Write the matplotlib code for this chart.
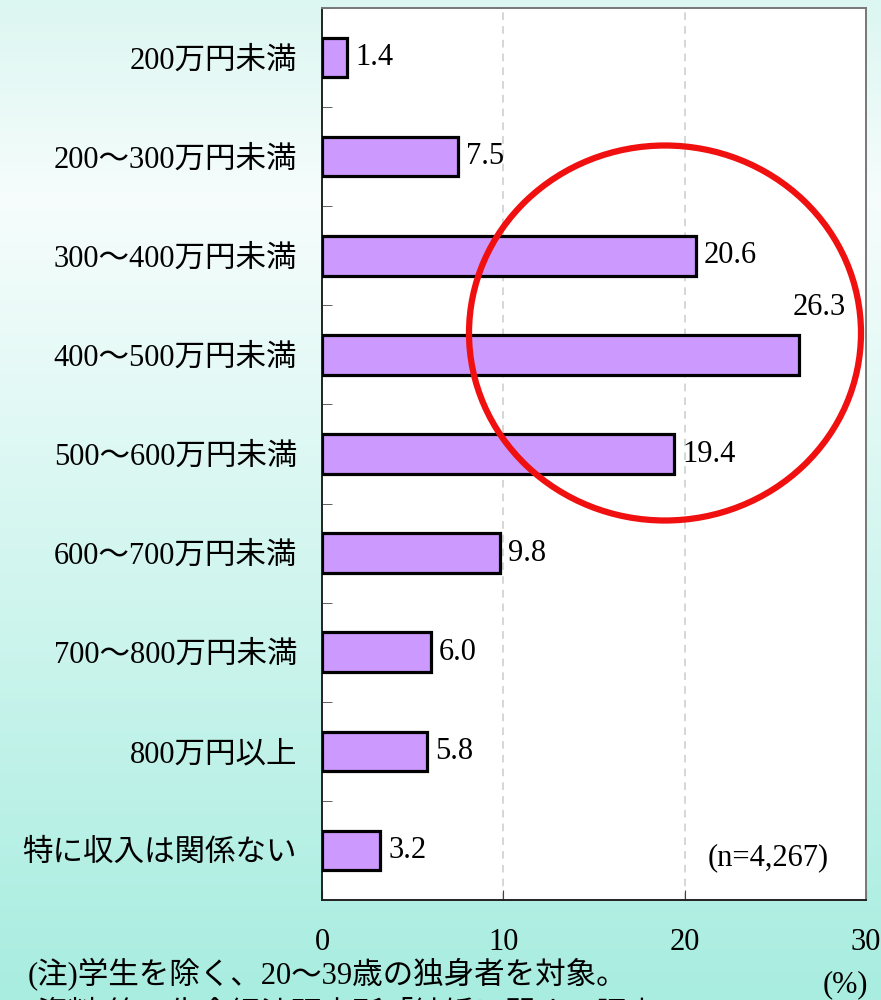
import matplotlib
matplotlib.use("Agg")
import matplotlib.pyplot as plt
import numpy as np
from matplotlib.patches import Ellipse

plt.rcParams['font.family'] = ['Liberation Serif', 'Noto Sans CJK JP', 'DejaVu Sans']

# データ
categories = ['200万円未満', '200～300万円未満', '300～400万円未満', '400～500万円未満',
              '500～600万円未満', '600～700万円未満', '700～800万円未満', '800万円以上',
              '特に収入は関係ない']
values = [1.4, 7.5, 20.6, 26.3, 19.4, 9.8, 6.0, 5.8, 3.2]
xticks = [0, 10, 20, 30]

fig = plt.figure(figsize=(8.81, 10), dpi=100)

# 背景グラデーション
bg = fig.add_axes([0, 0, 1, 1], zorder=-10)
yy = np.linspace(0, 1, 500)
top = np.array([220, 246, 241]) / 255
mid = np.array([246, 253, 252]) / 255
bot = np.array([168, 237, 224]) / 255
cols = np.zeros((500, 3))
for i, t in enumerate(yy):
    if t < 0.2:
        cols[i] = top + (mid - top) * (t / 0.2)
    else:
        cols[i] = mid + (bot - mid) * ((t - 0.2) / 0.8)
bg.imshow(cols[:, None, :], aspect='auto', extent=[0, 1, 1, 0])
bg.set_axis_off()

ax = fig.add_axes([322 / 881, 0.100, (866 - 322) / 881, 0.892])
ax.set_facecolor('white')
y = np.arange(len(categories))
ax.barh(y, values, height=0.4, color='#CC99FF', edgecolor='black', linewidth=2.3, zorder=3)

for i, v in enumerate(values):
    if v > 25:
        ax.text(v + 1.1, i - 0.48, f'{v:.1f}', ha='center', va='center', fontsize=22)
    else:
        ax.text(v + 0.45, i, f'{v:.1f}', ha='left', va='center', fontsize=22)

ax.set_xlim(0, 30)
ax.set_ylim(len(categories) - 0.5, -0.5)
ax.set_xticks(xticks)
ax.set_xticklabels([str(t) for t in xticks], fontsize=22)
ax.tick_params(axis='x', direction='in', length=7, pad=20, color='#444')
ax.set_yticks(y)
ax.set_yticklabels(categories, fontsize=22)
ax.tick_params(axis='y', which='major', length=0, pad=18)
ax.set_yticks(np.arange(-0.5, len(categories)), minor=True)
ax.tick_params(axis='y', which='minor', direction='in', length=7, color='#444')

for gx in [10, 20]:
    ax.axvline(gx, color='#cccccc', linestyle=(0, (5, 4)), linewidth=1.1, zorder=1)

for s in ['left', 'bottom']:
    ax.spines[s].set_color('#222')
    ax.spines[s].set_linewidth(1.4)
for s in ['top', 'right']:
    ax.spines[s].set_color('#777')
    ax.spines[s].set_linewidth(1.4)

ax.text(0.82, 0.047, '(n=4,267)', transform=ax.transAxes, ha='center', va='center', fontsize=22)

# 赤い丸
circ = Ellipse((665 / 881, 1 - 333 / 1000), 392 / 881, 375 / 1000, transform=fig.transFigure,
               fill=False, edgecolor='#F01010', linewidth=4.5, zorder=20)
fig.patches.append(circ)

fig.text(28 / 881, 1 - 975 / 1000, '(注)学生を除く、20～39歳の独身者を対象。', fontsize=22,
         ha='left', va='center')
fig.text(28 / 881, 1 - 1013 / 1000, '(資料)第一生命経済研究所「結婚に関する調査」', fontsize=22,
         ha='left', va='center')
fig.text(845 / 881, 1 - 985 / 1000, '(%)', fontsize=22, ha='center', va='center')

fig.savefig('out.png', dpi=100)
